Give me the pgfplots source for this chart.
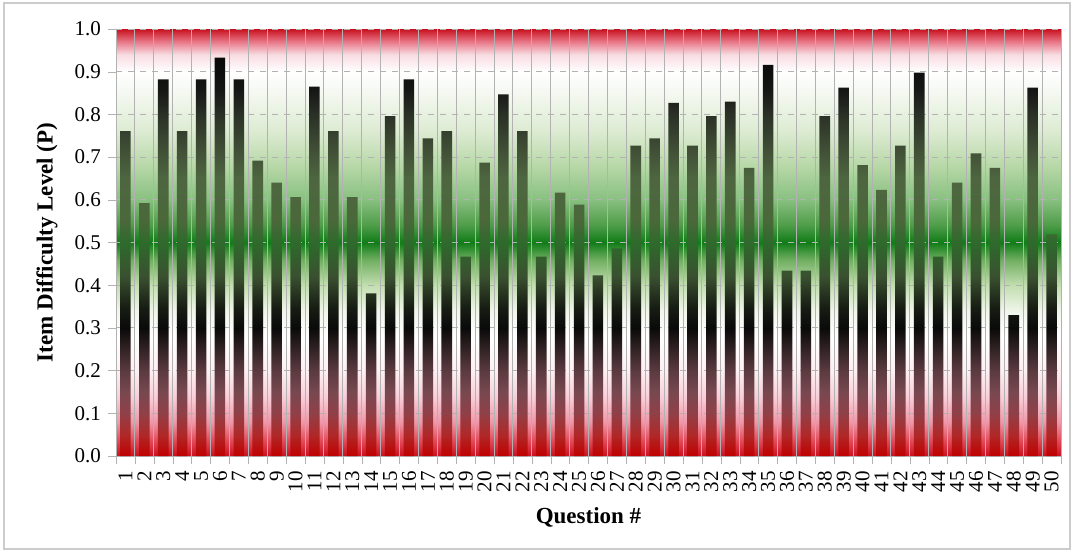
\documentclass[border=0pt]{standalone}
\usepackage{pgfplots}
\pgfplotsset{compat=1.18}
\usepackage{fontspec}
\setmainfont{Liberation Serif}
% background colours
\definecolor{bgA}{HTML}{C8101E}
\definecolor{bgB}{HTML}{E04050}
\definecolor{bgC}{HTML}{EE98A8}
\definecolor{bgD}{HTML}{F8D0DA}
\definecolor{bgE}{HTML}{FDF0F2}
\definecolor{bgF}{HTML}{FFFFFF}
\definecolor{bgG}{HTML}{F0F6EA}
\definecolor{bgH}{HTML}{C2DEB0}
\definecolor{bgI}{HTML}{70AE60}
\definecolor{bgJ}{HTML}{107C18}
\definecolor{bgK}{HTML}{4E9C48}
\definecolor{bgL}{HTML}{88C080}
\definecolor{bgM}{HTML}{B8D8A8}
\definecolor{bgN}{HTML}{DCEBD2}
\definecolor{bgO}{HTML}{F2F7EE}
\definecolor{bgP}{HTML}{F8DCE2}
\definecolor{bgQ}{HTML}{E87888}
\pgfdeclareverticalshading{bgshade}{100bp}{color(0bp)=(bgA); color(25bp)=(bgA); color(26.5bp)=(bgB); color(29bp)=(bgC); color(32bp)=(bgD); color(35bp)=(bgE); color(39bp)=(bgF); color(42bp)=(bgG); color(45bp)=(bgH); color(48bp)=(bgI); color(50bp)=(bgJ); color(52bp)=(bgK); color(55bp)=(bgL); color(59bp)=(bgM); color(63bp)=(bgN); color(67bp)=(bgO); color(70bp)=(bgF); color(72bp)=(bgP); color(73.5bp)=(bgQ); color(75bp)=(bgA); color(100bp)=(bgA)}
% bar colours
\definecolor{brA}{HTML}{C00000}
\definecolor{brB}{HTML}{B02828}
\definecolor{brC}{HTML}{904048}
\definecolor{brD}{HTML}{784850}
\definecolor{brE}{HTML}{5A3A40}
\definecolor{brF}{HTML}{2A1E20}
\definecolor{brG}{HTML}{0A0A0A}
\definecolor{brH}{HTML}{181E14}
\definecolor{brI}{HTML}{3A5030}
\definecolor{brJ}{HTML}{2E6A2C}
\definecolor{brK}{HTML}{4A683A}
\definecolor{brL}{HTML}{4E6640}
\definecolor{brM}{HTML}{404E36}
\definecolor{brN}{HTML}{2A3026}
\definecolor{brO}{HTML}{141614}
\definecolor{brP}{HTML}{080808}
\pgfdeclareverticalshading{barshade}{100bp}{color(0bp)=(brA); color(25bp)=(brA); color(27.68bp)=(brB); color(30.36bp)=(brC); color(33.04bp)=(brD); color(35.72bp)=(brE); color(38.93bp)=(brF); color(41.08bp)=(brG); color(43.76bp)=(brH); color(47.51bp)=(brI); color(51.8bp)=(brJ); color(54.47bp)=(brK); color(59.83bp)=(brL); color(63.58bp)=(brM); color(67.87bp)=(brN); color(71.09bp)=(brO); color(75bp)=(brP); color(100bp)=(brP)}
\begin{document}
\begin{tikzpicture}
\path[use as bounding box] (0,0) rectangle (537pt,277pt);
\draw[gray!40, line width=0.8pt] (2pt,2.5pt) rectangle (535pt,275.5pt);
\begin{axis}[
  at={(58pt,49pt)}, anchor=south west,
  width=472.5pt, height=213.5pt, scale only axis,
  xmin=0.5, xmax=50.5, ymin=0, ymax=1,
  xtick={1,...,50},
  minor xtick={0.5,1.5,...,50.5},
  ytick={0,0.1,0.2,0.3,0.4,0.5,0.6,0.7,0.8,0.9,1.0},
  axis background/.style={shading=bgshade},
  xminorgrids=true, ymajorgrids=true,
  minor x grid style={gray!60, line width=0.5pt},
  major y grid style={dashed, gray!60, line width=0.5pt},
  axis lines*=left, axis line style={-, gray!60},
  tick align=outside, major tick length=4pt, minor tick length=4pt,
  every major x tick/.style={draw=none},
  every tick/.append style={gray!60},
  every minor tick/.append style={gray!60},
  /pgf/number format/assume math mode=true,
  xticklabel style={rotate=90, anchor=east, font=\fontsize{10.5}{12}\selectfont},
  yticklabel style={font=\fontsize{10.5}{12}\selectfont, /pgf/number format/.cd, fixed, fixed zerofill, precision=1},
  xlabel={\textbf{Question \#}}, ylabel={\textbf{Item Difficulty Level (P)}},
  every axis x label/.style={at={(axis description cs:0.5,-0.143)}, anchor=center, font=\fontsize{11.5}{13}\selectfont\bfseries},
  every axis y label/.style={at={(axis description cs:-0.073,0.5)}, rotate=90, anchor=center, font=\fontsize{11.5}{13}\selectfont\bfseries},
]
\addplot[ybar, bar width=0.56, draw=none, shading=barshade] coordinates {
(1,0.761) (2,0.592) (3,0.882) (4,0.761) (5,0.882) (6,0.933) (7,0.882) (8,0.692) (9,0.640) (10,0.606)
(11,0.865) (12,0.761) (13,0.606) (14,0.381) (15,0.796) (16,0.882) (17,0.744) (18,0.761) (19,0.467) (20,0.687)
(21,0.847) (22,0.761) (23,0.467) (24,0.617) (25,0.589) (26,0.423) (27,0.486) (28,0.727) (29,0.744) (30,0.827)
(31,0.727) (32,0.796) (33,0.830) (34,0.675) (35,0.916) (36,0.434) (37,0.434) (38,0.796) (39,0.863) (40,0.681)
(41,0.623) (42,0.727) (43,0.898) (44,0.467) (45,0.640) (46,0.709) (47,0.675) (48,0.330) (49,0.863) (50,0.519)
};
\end{axis}
\end{tikzpicture}
\end{document}
